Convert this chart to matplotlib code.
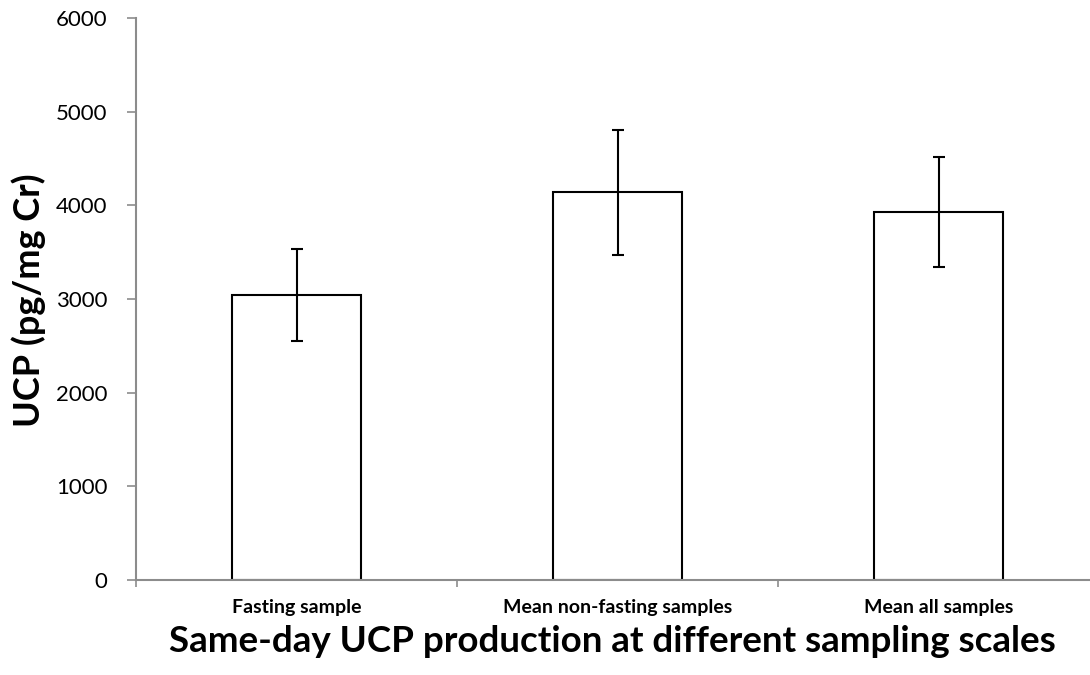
import matplotlib
matplotlib.use("Agg")
import matplotlib.pyplot as plt

categories = ["Fasting sample", "Mean non-fasting samples", "Mean all samples"]
values = [3045, 4140, 3930]
errors = [490, 665, 585]
yticks = [0, 1000, 2000, 3000, 4000, 5000, 6000]

plt.rcParams['font.family'] = ['Lato', 'DejaVu Sans']

fig = plt.figure(figsize=(10.9, 6.75), dpi=100)
ax = fig.add_axes([136/1090, 95/675, 963/1090, 562/675])

x = list(range(len(categories)))
ax.bar(x, values, width=0.4, color="white", edgecolor="black", linewidth=1.5, zorder=2)
ax.errorbar(x, values, yerr=errors, fmt="none", ecolor="black", elinewidth=1.5,
            capsize=4, capthick=1.5, zorder=3)

ax.set_xlim(-0.5, 2.5)
ax.set_ylim(0, 6000)
ax.set_yticks(yticks)
ax.set_yticklabels([str(v) for v in yticks], fontsize=16)
ax.set_xticks([-0.5, 0.5, 1.5, 2.5])
ax.set_xticklabels([])
ax.set_xticks(x, minor=True)
ax.set_xticklabels(categories, minor=True, fontsize=14, fontweight="bold")
ax.tick_params(axis="x", which="minor", length=0, pad=14)
ax.tick_params(axis="x", which="major", length=5, width=1.2, color="#8c8c8c", direction="out")
ax.tick_params(axis="y", length=6.5, width=1.2, color="#8c8c8c", direction="out", pad=14)

for s in ["top", "right"]:
    ax.spines[s].set_visible(False)
for s in ["left", "bottom"]:
    ax.spines[s].set_color("#8c8c8c")
    ax.spines[s].set_linewidth(1.5)

fig.text(29/1090, 1 - 300/675, "UCP (pg/mg Cr)", fontsize=26, fontweight="bold",
         rotation=90, ha="center", va="center")
fig.text(612/1090, 1 - 642/675, "Same-day UCP production at different sampling scales",
         fontsize=26.5, fontweight="bold", ha="center", va="center")

fig.savefig("out.png", dpi=100)
